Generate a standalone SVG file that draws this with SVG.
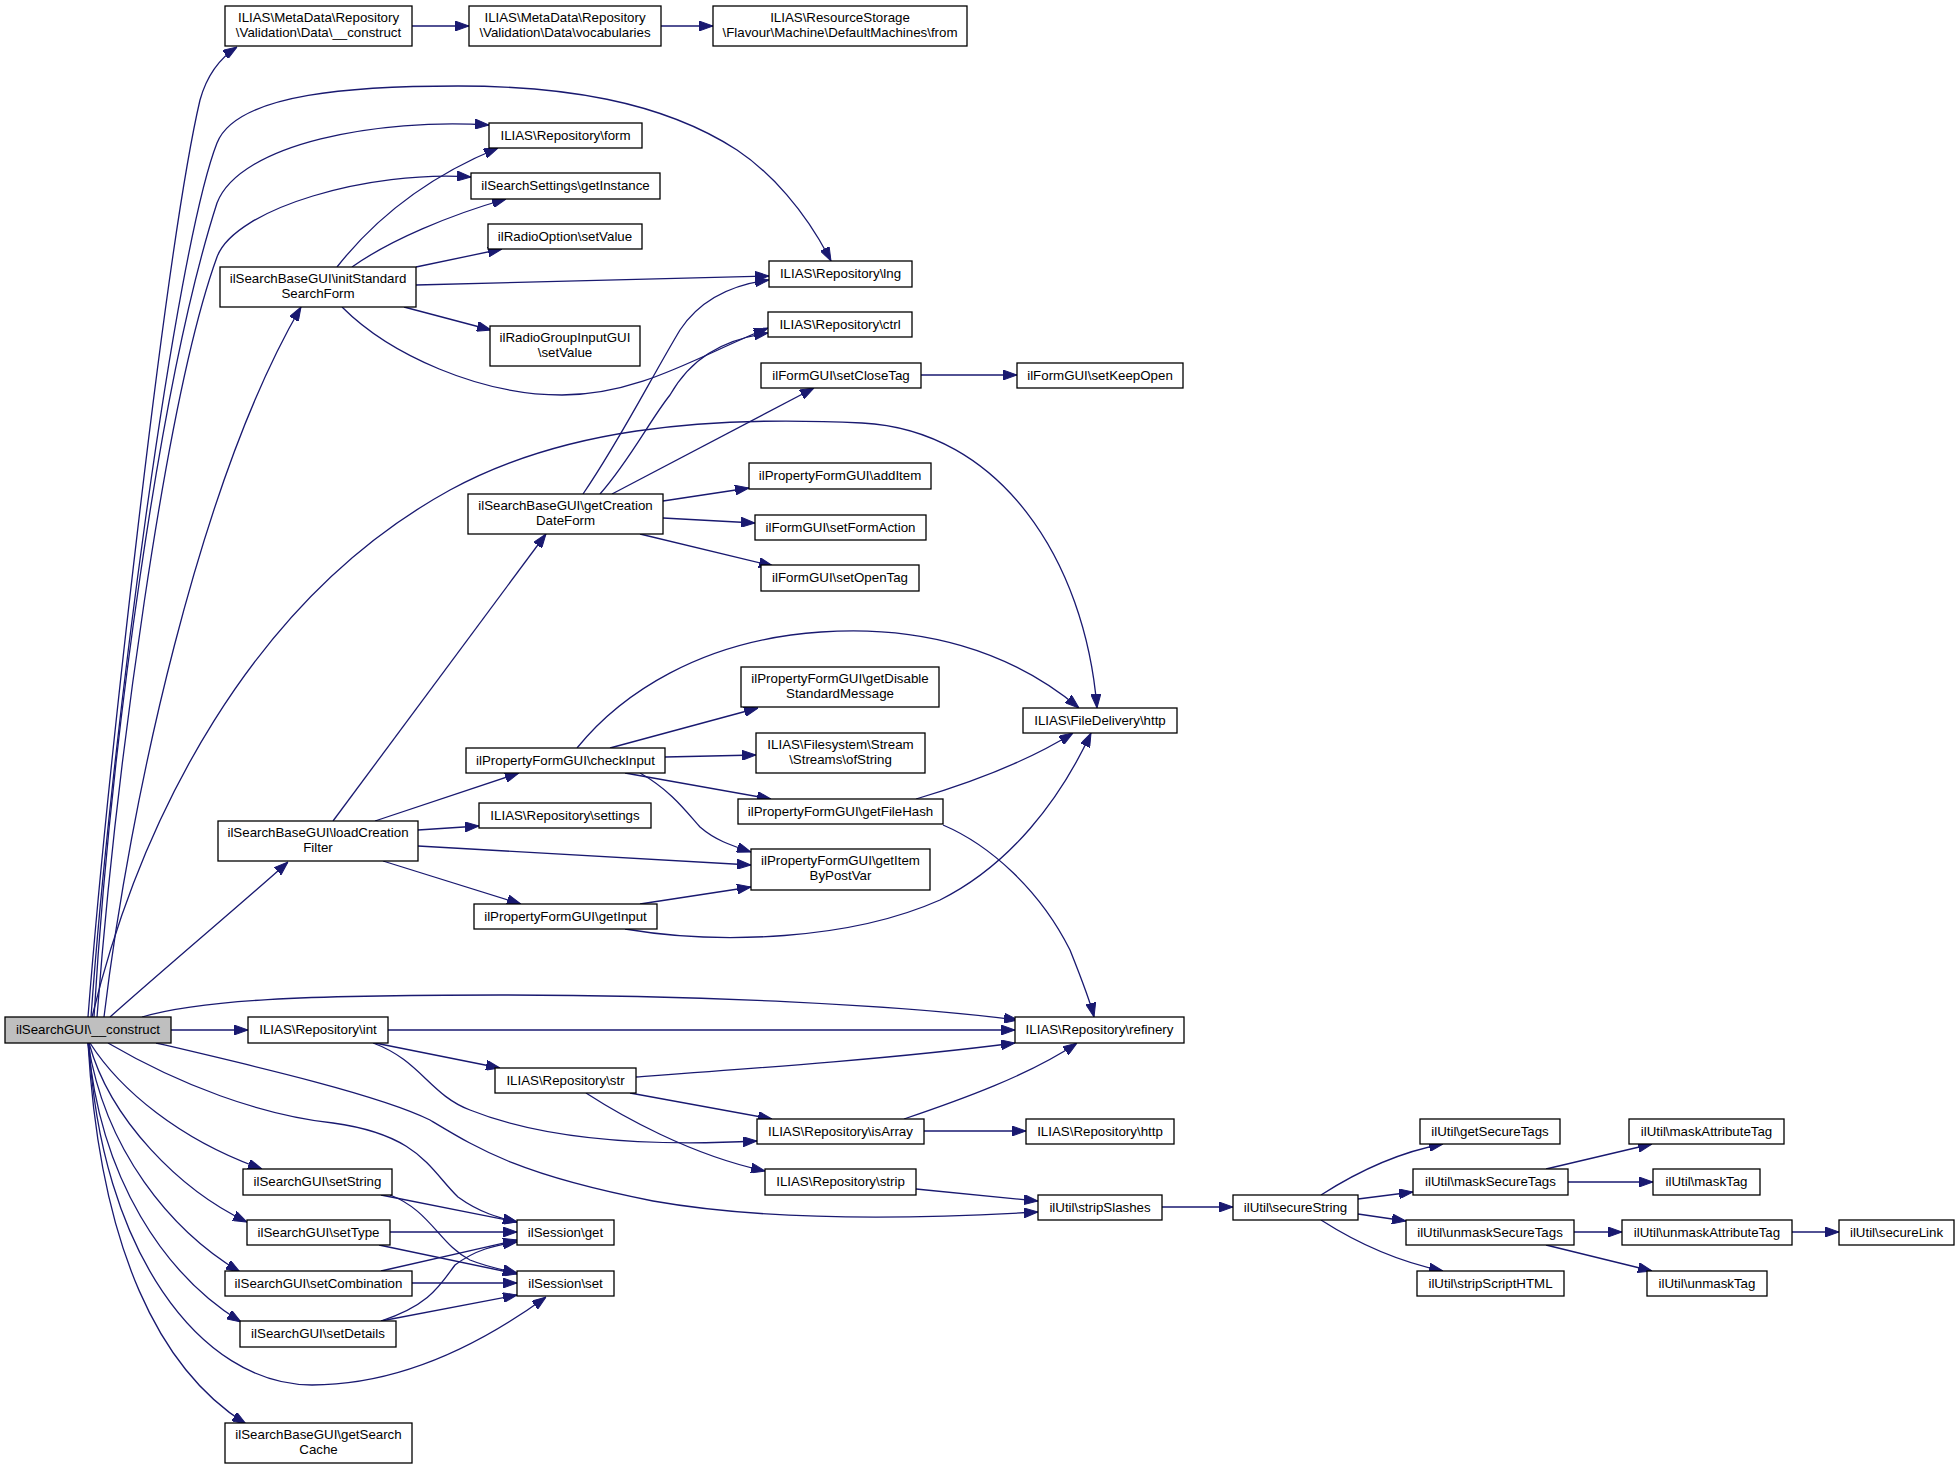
<svg xmlns="http://www.w3.org/2000/svg" width="1960" height="1469" viewBox="0 0 1960 1469">
<style>
rect{fill:#fff;stroke:#000;stroke-width:1.3}
rect.main{fill:#bfbfbf}
text{font-family:"Liberation Sans",Arial,Helvetica,sans-serif;font-size:13.3px;text-anchor:middle;fill:#000}
#edges path{fill:none;stroke:#191970;stroke-width:1.3;marker-end:url(#ah)}
</style>
<defs>
<marker id="ah" markerUnits="userSpaceOnUse" viewBox="0 0 14 10" refX="14" refY="5" markerWidth="14" markerHeight="10" orient="auto">
<path d="M0,0 L14,5 L0,10 z" fill="#191970" stroke="#191970" stroke-width="1"/>
</marker>
</defs>
<rect x="0" y="0" width="1960" height="1469" style="fill:#fff;stroke:none"/>
<g id="edges">
<path d="M88,1017 C105,800 165,250 200,100 C207,75 220,58 237,47"/>
<path d="M91,1017 C110,750 175,250 217,143 C237,92 360,86 458,86 C560,86 660,100 737,150 C770,172 805,210 831,261"/>
<path d="M94,1017 C110,750 160,380 217,203 C240,143 380,118 489,125"/>
<path d="M97,1017 C115,780 165,400 217,257 C235,208 370,170 471,177"/>
<path d="M104,1017 C130,800 200,480 301,307"/>
<path d="M92,1017 C140,820 250,600 450,490 C560,430 700,415 862,423 C1000,430 1085,560 1097,708"/>
<path d="M110,1017 C180,955 240,905 288,862"/>
<path d="M171,1030 L248,1030"/>
<path d="M142,1017 C200,1000 300,995 500,995 C700,995 900,1005 1018,1020"/>
<path d="M156,1043 C250,1065 380,1095 430,1120 C480,1150 520,1175 653,1201 C760,1220 900,1220 1038,1212"/>
<path d="M108,1043 C180,1085 260,1115 333,1123 C420,1135 430,1170 458,1197 C480,1213 500,1218 517,1222"/>
<path d="M90,1043 C120,1090 180,1140 262,1169"/>
<path d="M89,1043 C110,1120 180,1190 247,1222"/>
<path d="M88,1043 C105,1150 170,1230 240,1272"/>
<path d="M88,1043 C100,1180 165,1275 241,1322"/>
<path d="M89,1043 C100,1250 200,1385 312,1385 C400,1385 480,1345 546,1297"/>
<path d="M88,1043 C100,1250 160,1370 246,1424"/>
<path d="M388,1030 L1015,1030"/>
<path d="M375,1043 L500,1068"/>
<path d="M373,1043 C420,1060 430,1095 470,1110 C540,1138 640,1147 757,1141"/>
<path d="M636,1077 C760,1068 900,1058 1015,1043"/>
<path d="M630,1093 L772,1119"/>
<path d="M586,1093 C620,1115 690,1155 765,1171"/>
<path d="M904,1119 C960,1100 1030,1075 1077,1043"/>
<path d="M924,1131 L1026,1131"/>
<path d="M916,1189 L1038,1201"/>
<path d="M1162,1207 L1233,1207"/>
<path d="M1321,1195 C1360,1170 1400,1152 1443,1144"/>
<path d="M1358,1199 L1413,1192"/>
<path d="M1358,1214 L1406,1221"/>
<path d="M1321,1220 C1360,1245 1400,1262 1443,1271"/>
<path d="M1546,1169 L1652,1144"/>
<path d="M1568,1182 L1653,1182"/>
<path d="M1574,1232 L1622,1232"/>
<path d="M1546,1245 L1652,1271"/>
<path d="M1792,1232 L1839,1232"/>
<path d="M412,26 L469,26"/>
<path d="M661,26 L713,26"/>
<path d="M337,267 C370,225 420,180 498,148"/>
<path d="M352,267 C390,240 450,215 506,199"/>
<path d="M416,267 L502,249"/>
<path d="M416,285 L769,276"/>
<path d="M404,307 L491,330"/>
<path d="M342,307 C390,355 480,395 562,395 C640,395 700,355 768,328"/>
<path d="M583,494 C620,440 650,380 680,330 C700,300 730,285 769,280"/>
<path d="M600,494 C630,460 650,420 670,395 C690,360 720,340 768,333"/>
<path d="M612,494 L814,388"/>
<path d="M663,501 L749,488"/>
<path d="M663,518 L755,523"/>
<path d="M640,534 L773,566"/>
<path d="M921,375 L1017,375"/>
<path d="M577,748 C620,695 700,640 821,632 C920,625 1010,650 1079,708"/>
<path d="M610,748 L758,708"/>
<path d="M665,757 L756,755"/>
<path d="M625,773 L771,799"/>
<path d="M640,773 C670,790 685,810 700,827 C715,840 730,845 751,852"/>
<path d="M916,799 C980,780 1030,760 1073,733"/>
<path d="M943,825 C990,845 1040,890 1070,950 C1080,975 1090,1000 1094,1017"/>
<path d="M625,929 C720,945 850,940 940,900 C1010,865 1060,800 1091,733"/>
<path d="M640,904 L751,887"/>
<path d="M333,821 L546,534"/>
<path d="M375,821 L519,773"/>
<path d="M418,830 L479,826"/>
<path d="M418,846 L751,865"/>
<path d="M383,861 L521,904"/>
<path d="M381,1195 L517,1222"/>
<path d="M390,1195 C430,1210 440,1245 470,1260 C490,1268 505,1270 517,1273"/>
<path d="M390,1232 L517,1232"/>
<path d="M379,1245 L517,1274"/>
<path d="M381,1271 L517,1240"/>
<path d="M412,1283 L517,1283"/>
<path d="M381,1321 C430,1305 440,1285 455,1265 C475,1250 495,1245 517,1242"/>
<path d="M381,1321 L517,1295"/>
</g>
<g id="n0"><rect class="main" x="5" y="1017" width="166" height="26"/><text x="88" y="1034">ilSearchGUI\__construct</text></g>
<g id="n1"><rect x="225" y="6" width="187" height="40"/><text x="318.5" y="22">ILIAS\MetaData\Repository</text><text x="318.5" y="37">\Validation\Data\__construct</text></g>
<g id="n2"><rect x="469" y="6" width="192" height="40"/><text x="565" y="22">ILIAS\MetaData\Repository</text><text x="565" y="37">\Validation\Data\vocabularies</text></g>
<g id="n3"><rect x="713" y="6" width="254" height="40"/><text x="840" y="22">ILIAS\ResourceStorage</text><text x="840" y="37">\Flavour\Machine\DefaultMachines\from</text></g>
<g id="n4"><rect x="489" y="123" width="153" height="25"/><text x="565.5" y="140">ILIAS\Repository\form</text></g>
<g id="n5"><rect x="471" y="173" width="189" height="26"/><text x="565.5" y="190">ilSearchSettings\getInstance</text></g>
<g id="n6"><rect x="488" y="224" width="154" height="25"/><text x="565" y="241">ilRadioOption\setValue</text></g>
<g id="n7"><rect x="220" y="267" width="196" height="40"/><text x="318" y="283">ilSearchBaseGUI\initStandard</text><text x="318" y="298">SearchForm</text></g>
<g id="n8"><rect x="490" y="326" width="150" height="40"/><text x="565" y="342">ilRadioGroupInputGUI</text><text x="565" y="357">\setValue</text></g>
<g id="n9"><rect x="769" y="261" width="143" height="26"/><text x="840.5" y="278">ILIAS\Repository\lng</text></g>
<g id="n10"><rect x="768" y="312" width="144" height="25"/><text x="840" y="329">ILIAS\Repository\ctrl</text></g>
<g id="n11"><rect x="761" y="363" width="160" height="25"/><text x="841" y="380">ilFormGUI\setCloseTag</text></g>
<g id="n12"><rect x="1017" y="363" width="166" height="25"/><text x="1100" y="380">ilFormGUI\setKeepOpen</text></g>
<g id="n13"><rect x="749" y="463" width="182" height="26"/><text x="840" y="480">ilPropertyFormGUI\addItem</text></g>
<g id="n14"><rect x="468" y="494" width="195" height="40"/><text x="565.5" y="510">ilSearchBaseGUI\getCreation</text><text x="565.5" y="525">DateForm</text></g>
<g id="n15"><rect x="755" y="515" width="171" height="25"/><text x="840.5" y="532">ilFormGUI\setFormAction</text></g>
<g id="n16"><rect x="761" y="565" width="158" height="26"/><text x="840" y="582">ilFormGUI\setOpenTag</text></g>
<g id="n17"><rect x="741" y="667" width="198" height="40"/><text x="840" y="683">ilPropertyFormGUI\getDisable</text><text x="840" y="698">StandardMessage</text></g>
<g id="n18"><rect x="1023" y="708" width="154" height="25"/><text x="1100" y="725">ILIAS\FileDelivery\http</text></g>
<g id="n19"><rect x="756" y="733" width="169" height="40"/><text x="840.5" y="749">ILIAS\Filesystem\Stream</text><text x="840.5" y="764">\Streams\ofString</text></g>
<g id="n20"><rect x="466" y="748" width="199" height="25"/><text x="565.5" y="765">ilPropertyFormGUI\checkInput</text></g>
<g id="n21"><rect x="738" y="799" width="205" height="25"/><text x="840.5" y="816">ilPropertyFormGUI\getFileHash</text></g>
<g id="n22"><rect x="479" y="803" width="172" height="25"/><text x="565" y="820">ILIAS\Repository\settings</text></g>
<g id="n23"><rect x="218" y="821" width="200" height="40"/><text x="318" y="837">ilSearchBaseGUI\loadCreation</text><text x="318" y="852">Filter</text></g>
<g id="n24"><rect x="751" y="849" width="179" height="41"/><text x="840.5" y="865">ilPropertyFormGUI\getItem</text><text x="840.5" y="880">ByPostVar</text></g>
<g id="n25"><rect x="474" y="904" width="183" height="25"/><text x="565.5" y="921">ilPropertyFormGUI\getInput</text></g>
<g id="n26"><rect x="248" y="1017" width="140" height="26"/><text x="318" y="1034">ILIAS\Repository\int</text></g>
<g id="n27"><rect x="1015" y="1017" width="169" height="26"/><text x="1099.5" y="1034">ILIAS\Repository\refinery</text></g>
<g id="n28"><rect x="495" y="1068" width="141" height="25"/><text x="565.5" y="1085">ILIAS\Repository\str</text></g>
<g id="n29"><rect x="757" y="1119" width="167" height="25"/><text x="840.5" y="1136">ILIAS\Repository\isArray</text></g>
<g id="n30"><rect x="1026" y="1119" width="148" height="25"/><text x="1100" y="1136">ILIAS\Repository\http</text></g>
<g id="n31"><rect x="765" y="1169" width="151" height="26"/><text x="840.5" y="1186">ILIAS\Repository\strip</text></g>
<g id="n32"><rect x="243" y="1169" width="149" height="26"/><text x="317.5" y="1186">ilSearchGUI\setString</text></g>
<g id="n33"><rect x="1038" y="1195" width="124" height="25"/><text x="1100" y="1212">ilUtil\stripSlashes</text></g>
<g id="n34"><rect x="1233" y="1195" width="125" height="25"/><text x="1295.5" y="1212">ilUtil\secureString</text></g>
<g id="n35"><rect x="247" y="1220" width="143" height="25"/><text x="318.5" y="1237">ilSearchGUI\setType</text></g>
<g id="n36"><rect x="517" y="1220" width="97" height="25"/><text x="565.5" y="1237">ilSession\get</text></g>
<g id="n37"><rect x="517" y="1271" width="97" height="25"/><text x="565.5" y="1288">ilSession\set</text></g>
<g id="n38"><rect x="225" y="1271" width="187" height="25"/><text x="318.5" y="1288">ilSearchGUI\setCombination</text></g>
<g id="n39"><rect x="240" y="1321" width="156" height="26"/><text x="318" y="1338">ilSearchGUI\setDetails</text></g>
<g id="n40"><rect x="225" y="1423" width="187" height="40"/><text x="318.5" y="1439">ilSearchBaseGUI\getSearch</text><text x="318.5" y="1454">Cache</text></g>
<g id="n41"><rect x="1420" y="1119" width="140" height="25"/><text x="1490" y="1136">ilUtil\getSecureTags</text></g>
<g id="n42"><rect x="1413" y="1169" width="155" height="26"/><text x="1490.5" y="1186">ilUtil\maskSecureTags</text></g>
<g id="n43"><rect x="1406" y="1220" width="168" height="25"/><text x="1490" y="1237">ilUtil\unmaskSecureTags</text></g>
<g id="n44"><rect x="1417" y="1271" width="147" height="25"/><text x="1490.5" y="1288">ilUtil\stripScriptHTML</text></g>
<g id="n45"><rect x="1629" y="1119" width="155" height="25"/><text x="1706.5" y="1136">ilUtil\maskAttributeTag</text></g>
<g id="n46"><rect x="1653" y="1169" width="107" height="26"/><text x="1706.5" y="1186">ilUtil\maskTag</text></g>
<g id="n47"><rect x="1622" y="1220" width="170" height="25"/><text x="1707" y="1237">ilUtil\unmaskAttributeTag</text></g>
<g id="n48"><rect x="1839" y="1220" width="115" height="25"/><text x="1896.5" y="1237">ilUtil\secureLink</text></g>
<g id="n49"><rect x="1647" y="1271" width="120" height="25"/><text x="1707" y="1288">ilUtil\unmaskTag</text></g>
</svg>
